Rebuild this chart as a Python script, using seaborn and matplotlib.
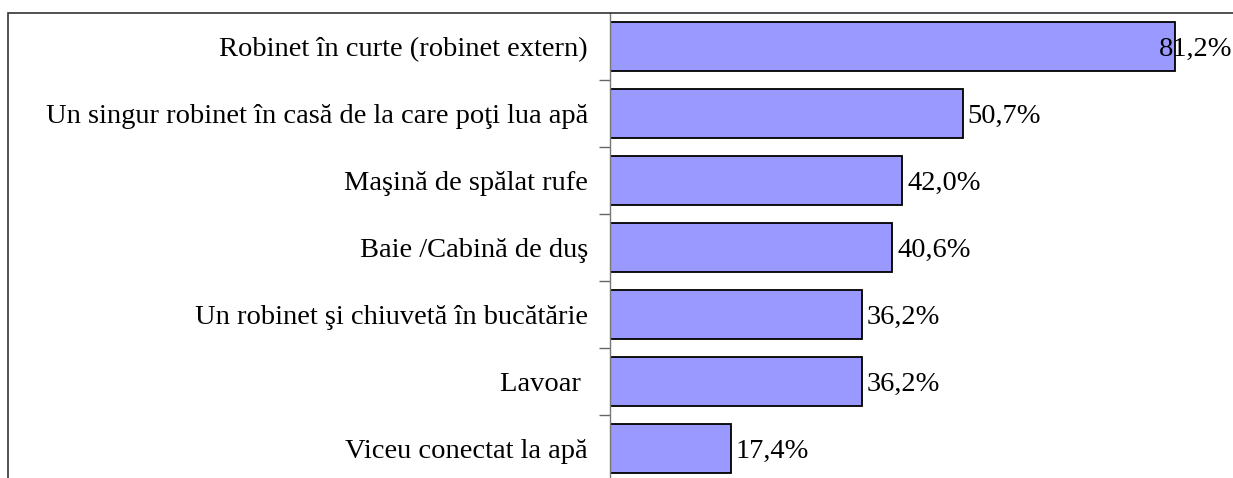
import matplotlib
matplotlib.use("Agg")
import matplotlib.pyplot as plt
import seaborn as sns
import pandas as pd
from matplotlib.patches import Rectangle

categories = [
    "Robinet în curte (robinet extern)",
    "Un singur robinet în casă de la care poţi lua apă",
    "Maşină de spălat rufe",
    "Baie /Cabină de duş",
    "Un robinet şi chiuvetă în bucătărie",
    "Lavoar ",
    "Viceu conectat la apă",
]
values = [81.2, 50.7, 42.0, 40.6, 36.2, 36.2, 17.4]
value_labels = ["81,2%", "50,7%", "42,0%", "40,6%", "36,2%", "36,2%", "17,4%"]

df = pd.DataFrame({"cat": categories, "val": values})

sns.set_theme(style="white")
plt.rcParams["font.family"] = ["Liberation Serif", "DejaVu Serif"]
plt.rcParams["text.color"] = "black"
plt.rcParams["ytick.color"] = "black"

FS = 20.5

W, H = 1233, 478
fig = plt.figure(figsize=(W / 100, H / 100), dpi=100)
left = 610 / W
top = 1 - 13 / H
bottom = 1 - 482 / H
xmax = 90
px_per = 6.955
right_px = 610 + xmax * px_per
ax = fig.add_axes([left, bottom, (right_px - 610) / W, top - bottom])

sns.barplot(data=df, y="cat", x="val", orient="h", color="#9999FF",
            saturation=1, edgecolor="black", linewidth=1.3, width=0.72, ax=ax)
ax.set_xlim(0, xmax)
ax.set_ylim(len(categories) - 0.5, -0.5)
ax.set_xlabel("")
ax.set_ylabel("")
ax.set_xticks([])

# tick marks between categories
ax.set_yticks([i + 0.5 for i in range(len(categories) - 1)], minor=False)
ax.set_yticklabels([])
ax.tick_params(axis="y", which="major", direction="out", length=8, width=1,
               color="#666666", left=True)
ax.set_yticks(range(len(categories)), minor=True)
ax.set_yticklabels(categories, minor=True, fontsize=FS, color="black")
ax.tick_params(axis="y", which="minor", length=0, pad=16)

for s in ["top", "right", "bottom"]:
    ax.spines[s].set_visible(False)
ax.spines["left"].set_color("#777777")
ax.spines["left"].set_linewidth(1.0)

for i, (v, lab) in enumerate(zip(values, value_labels)):
    xpix = 610 + v * px_per
    if xpix + 75 > W:
        ax.annotate(lab, xy=(1 - 1 / W, i), xycoords=("figure fraction", "data"),
                    ha="right", va="center_baseline", fontsize=FS, color="black")
    else:
        ax.annotate(lab, xy=(v, i), xytext=(3.6, 0), textcoords="offset points",
                    ha="left", va="center_baseline", fontsize=FS, color="black")

# outer frame (cropped)
fig.patches.append(Rectangle((8 / W, -0.1), 1.2, (1 - 13 / H) + 0.1,
                             transform=fig.transFigure, fill=False,
                             edgecolor="#333333", linewidth=1.2, zorder=0))

fig.savefig("out.png", dpi=100)
